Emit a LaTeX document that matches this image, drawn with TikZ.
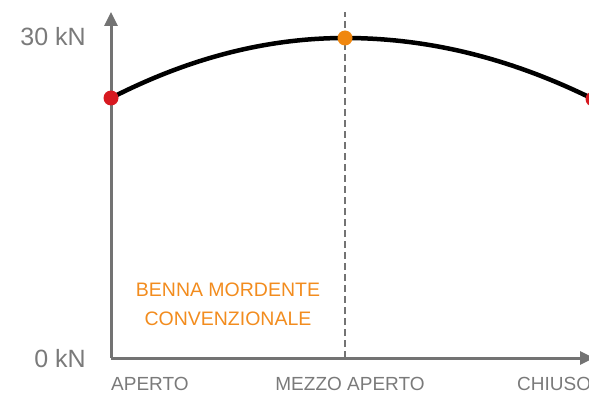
\documentclass[tikz,border=0pt]{standalone}
\usepackage{fontspec}
\setmainfont{Liberation Sans}
\usetikzlibrary{arrows.meta}

\definecolor{axisgray}{HTML}{737373}
\definecolor{labelgray}{HTML}{7A7A7A}
\definecolor{dotred}{HTML}{D71920}
\definecolor{dotorange}{HTML}{F0870F}
\definecolor{noteorange}{HTML}{F28C1E}

\tikzset{
  axisline/.style={draw=axisgray, line width=3pt, -{Triangle[length=14pt,width=13pt]}},
  midline/.style={draw=axisgray, line width=2.6pt, dash pattern=on 7pt off 4pt},
  forceline/.style={draw=black, line width=4.5pt},
  dot/.style={circle, inner sep=0pt, minimum size=15pt},
  ylabel/.style={text=labelgray, inner sep=0pt, anchor=base east, font=\fontsize{25}{30}\selectfont},
  xlabel/.style={text=labelgray, inner sep=0pt, font=\fontsize{19}{23}\selectfont},
  note/.style={text=noteorange, inner sep=0pt, anchor=base, font=\fontsize{19.5}{23}\selectfont}
}

\begin{document}
\begin{tikzpicture}[x=1pt, y=-1pt]
\useasboundingbox (0,0) rectangle (589,393);

% axes
\coordinate (O) at (111,358);
\coordinate (ytip) at (111,12);
\coordinate (xtip) at (594,358);
\draw[axisline] (O) -- (ytip);
\draw[axisline] (O) -- (xtip);

% half open line
\coordinate (midtop) at (345,12);
\coordinate (midbot) at (345,358);
\draw[midline] (midbot) -- (midtop);

% force curve
\coordinate (open) at (111,98);
\coordinate (half) at (345,38);
\coordinate (shut) at (593,99);
\draw[forceline] (open) .. controls (189,58) and (267,38) .. (half)
  .. controls (428,38) and (510,58) .. (shut);
\node[dot, fill=dotred] (opendot) at (open) {};
\node[dot, fill=dotorange] (halfdot) at (half) {};
\node[dot, fill=dotred] (shutdot) at (shut) {};

% labels
\node[ylabel] (ymax) at (86,46) {30 kN};
\node[ylabel] (ymin) at (86,367) {0 kN};
\node[xlabel, anchor=base west] (xopen) at (111,390) {APERTO};
\node[xlabel, anchor=base] (xhalf) at (350,390) {MEZZO APERTO};
\node[xlabel, anchor=base west] (xshut) at (517,390) {CHIUSO};
\node[note] (note1) at (228,296) {BENNA MORDENTE};
\node[note] (note2) at (228,325) {CONVENZIONALE};
\end{tikzpicture}
\end{document}
